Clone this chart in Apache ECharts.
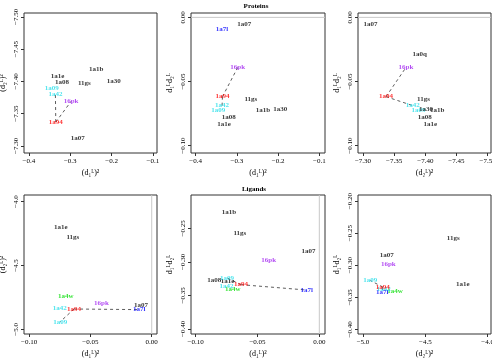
<!DOCTYPE html>
<html>
<head>
<meta charset="utf-8">
<script src="https://cdn.jsdelivr.net/npm/echarts@6/dist/echarts.min.js"></script>
</head>
<body style="margin:0;background:#fff">
<div id="main" style="width:492px;height:361px"></div>
<script>
// proteins: (d1)^2, (d2)^2, d1*d2 per structure (null = off the plotted range)
var protNames = ['1a07', '1a7l', '1a0q', '16pk', '1a94', '11gs', '1a42', '1a09', '1a1b', '1a30', '1a08', '1a1e'];
var protD1sq  = [-0.282, -0.336, null, -0.298, -0.335, -0.266, -0.336, -0.345, -0.237, -0.195, -0.320, -0.331];
var protD2sq  = [-7.312, null, -7.391, -7.369, -7.337, -7.397, -7.380, -7.389, -7.419, -7.401, -7.399, -7.408];
var protD1D2  = [-0.0052, -0.0093, -0.0286, -0.039, -0.0618, -0.0636, -0.0688, -0.0722, -0.0724, -0.0718, -0.0778, -0.0831];
var protLinks = [['1a94', '16pk'], ['1a94', '1a42']];

// ligands
var ligNames = ['1a1e', '11gs', '1a4w', '16pk', '1a07', '1a7l', '1a42', '1a94', '1a09', '1a08', '1a1b'];
var ligD1sq  = [-0.0742, -0.0643, -0.070, -0.041, -0.0087, -0.0102, -0.075, -0.0633, -0.0746, -0.085, -0.0731];
var ligD2sq  = [-4.20, -4.276, -4.743, -4.797, -4.81, -4.846, -4.834, -4.841, -4.941, null, null];
var ligD1D2  = [-0.3294, -0.2572, -0.341, -0.2977, -0.2838, -0.342, -0.337, -0.334, -0.324, -0.328, -0.2253];
var ligLinks = [['1a94', '1a7l'], ['1a94', '1a09']];

// tick labels
var ticksD1sqP = [-0.4, -0.3, -0.2, -0.1];
var ticksD2sqP = [-7.50, -7.45, -7.40, -7.35, -7.30];
var ticksD1D2P = [0, -0.05, -0.10];
var ticksD1sqL = [-0.10, -0.05, 0];
var ticksD2sqL = [-5.0, -4.5, -4.0];
var ticksD1D2L = [-0.20, -0.25, -0.30, -0.35, -0.40];

var labelColor = {
  '1a94': '#ff0000', '1a42': '#22dde8', '1a09': '#22dde8',
  '16pk': '#a020f0', '1a7l': '#0000ff', '1a4w': '#00dd00'
};
var serif = '"Liberation Serif", "DejaVu Serif", serif';

var chart = echarts.init(document.getElementById('main'));

var grids = [
  {left: 24, top: 13, width: 133, height: 140},
  {left: 191, top: 13, width: 134, height: 140},
  {left: 358, top: 13, width: 133, height: 140},
  {left: 24, top: 195, width: 133, height: 139},
  {left: 191, top: 195, width: 134, height: 139},
  {left: 358, top: 195, width: 133, height: 139}
];
grids.forEach(function (g) {
  g.show = true;
  g.borderColor = '#333';
  g.borderWidth = 1;
  g.backgroundColor = 'rgba(0,0,0,0)';
  g.outerBoundsMode = 'none';
  g.containLabel = false;
});

function minus(s) { return s.replace('-', '\u2212'); }

function axis(idx, min, max, ticks, digits, name, isY, inverse, gap) {
  var vals = ticks.filter(function (v) { return v >= min && v <= max; });
  return {
    type: 'value', gridIndex: idx, min: min, max: max, inverse: !!inverse,
    name: name, nameLocation: 'middle', nameGap: gap,
    nameTextStyle: {fontFamily: serif, fontSize: 8, color: '#000'},
    splitLine: {show: false},
    axisLine: {show: false, onZero: false},
    axisTick: {show: true, length: 3, customValues: vals, lineStyle: {color: '#333'}},
    axisLabel: {
      customValues: vals, fontFamily: serif, fontSize: 7, color: '#000',
      rotate: isY ? 90 : 0, margin: isY ? 4 : 5,
      formatter: function (v) { return minus((+v).toFixed(digits)); }
    }
  };
}

var xAxes = [
  axis(0, -0.412, -0.090, ticksD1sqP, 1, '(d\u2081\u1D38)\u00B2', false, false, 16),
  axis(1, -0.4114, -0.0862, ticksD1sqP, 1, '(d\u2081\u1D38)\u00B2', false, false, 16),
  axis(2, -7.5054, -7.292, ticksD2sqP, 2, '(d\u2082\u1D38)\u00B2', false, true, 16),
  axis(3, -0.1041, 0.0043, ticksD1sqL, 2, '(d\u2081\u1D38)\u00B2', false, false, 16),
  axis(4, -0.1038, 0.0046, ticksD1sqL, 2, '(d\u2081\u1D38)\u00B2', false, false, 16),
  axis(5, -5.040, -3.973, ticksD2sqL, 1, '(d\u2082\u1D38)\u00B2', false, false, 16)
];
var yAxes = [
  axis(0, -7.506, -7.289, ticksD2sqP, 2, '(d\u2082\u1D38)\u00B2', true, true, 17),
  axis(1, -0.1057, 0.0034, ticksD1D2P, 2, 'd\u2081\u1D38d\u2082\u1D38', true, false, 17),
  axis(2, -0.1057, 0.0034, ticksD1D2P, 2, 'd\u2081\u1D38d\u2082\u1D38', true, false, 17),
  axis(3, -5.037, -3.9475, ticksD2sqL, 1, '(d\u2082\u1D38)\u00B2', true, false, 17),
  axis(4, -0.4075, -0.2004, ticksD1D2L, 2, 'd\u2081\u1D38d\u2082\u1D38', true, false, 17),
  axis(5, -0.4073, -0.1906, ticksD1D2L, 2, 'd\u2081\u1D38d\u2082\u1D38', true, false, 17)
];

var series = [];

// ref: light grey zero line, 'h' = horizontal (y = 0), 'v' = vertical (x = 0)
function panel(idx, names, xs, ys, links, ref) {
  var items = [];
  var pos = {};
  names.forEach(function (n, i) {
    if (xs[i] == null || ys[i] == null) return;
    pos[n] = [xs[i], ys[i]];
    items.push({name: n, value: [xs[i], ys[i]], label: {color: labelColor[n] || '#000'}});
  });
  if (ref) {
    var xa = xAxes[idx], ya = yAxes[idx];
    var pts = ref === 'h' ? [[xa.min, 0], [xa.max, 0]] : [[0, ya.min], [0, ya.max]];
    series.push({
      type: 'line', xAxisIndex: idx, yAxisIndex: idx, silent: true, symbol: 'none', z: 0,
      lineStyle: {color: '#c8c8c8', width: 1, type: 'solid'},
      data: pts
    });
  }
  links.forEach(function (l) {
    if (!pos[l[0]] || !pos[l[1]]) return;
    series.push({
      type: 'line', xAxisIndex: idx, yAxisIndex: idx, silent: true, symbol: 'none', z: 1,
      lineStyle: {color: '#333', width: 0.8, type: [3, 3]},
      data: [pos[l[0]], pos[l[1]]]
    });
  });
  series.push({
    type: 'scatter', xAxisIndex: idx, yAxisIndex: idx, silent: true, z: 3,
    symbolSize: 1, itemStyle: {color: 'rgba(0,0,0,0)'},
    label: {show: true, position: 'inside', formatter: '{b}', fontFamily: serif,
            fontSize: 7, fontWeight: 'bold'},
    data: items
  });
}

panel(0, protNames, protD1sq, protD2sq, protLinks, null);
panel(1, protNames, protD1sq, protD1D2, protLinks, 'h');
panel(2, protNames, protD2sq, protD1D2, protLinks, 'h');
panel(3, ligNames, ligD1sq, ligD2sq, ligLinks, 'v');
panel(4, ligNames, ligD1sq, ligD1D2, ligLinks, 'v');
panel(5, ligNames, ligD2sq, ligD1D2, ligLinks, null);

chart.setOption({
  animation: false,
  title: [
    {text: 'Proteins', left: 251, top: -2, textAlign: 'center',
     textStyle: {fontFamily: serif, fontSize: 7, fontWeight: 'bold', color: '#000'}},
    {text: 'Ligands', left: 249, top: 181, textAlign: 'center',
     textStyle: {fontFamily: serif, fontSize: 7, fontWeight: 'bold', color: '#000'}}
  ],
  grid: grids,
  xAxis: xAxes,
  yAxis: yAxes,
  series: series
});
</script>
</body>
</html>
